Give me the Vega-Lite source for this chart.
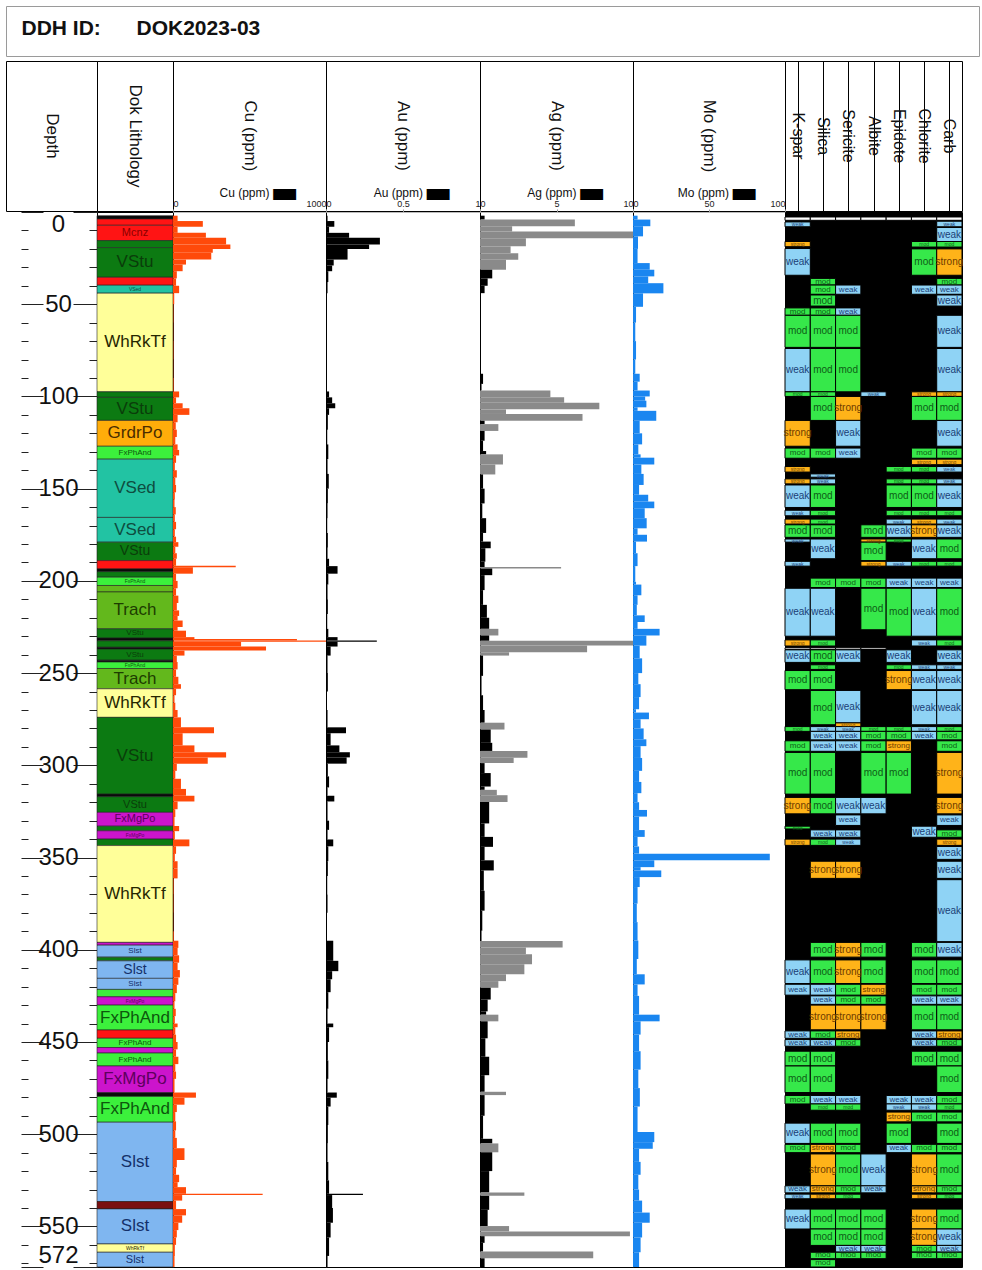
{
"$schema": "https://vega.github.io/schema/vega-lite/v6.json",
"padding": {"left": 5, "top": 5, "right": 4, "bottom": 0},
"background": "white",
"spacing": 3,
"resolve": {"scale": {"fill": "independent", "color": "independent"}},
"config": {"font": "Liberation Sans", "view": {"stroke": "#000", "strokeWidth": 1}, "axis": {"labelFont": "Liberation Sans"}, "text": {"font": "Liberation Sans"}},
"datasets": {
"lith": [
{"from":2,"to":3.8,"lith":"Flt","label":""},
{"from":3.8,"to":7.2,"lith":"Mcnz","label":""},
{"from":7.2,"to":15.5,"lith":"Mcnz","label":"Mcnz"},
{"from":15.5,"to":19.3,"lith":"VStu","label":""},
{"from":19.3,"to":35.4,"lith":"VStu","label":"VStu"},
{"from":35.4,"to":39.7,"lith":"Mcnz","label":""},
{"from":39.7,"to":44,"lith":"VSed","label":"VSed"},
{"from":44,"to":97.5,"lith":"WhRkTf","label":"WhRkTf"},
{"from":97.5,"to":100.5,"lith":"VStu","label":""},
{"from":100.5,"to":113,"lith":"VStu","label":"VStu"},
{"from":113,"to":127,"lith":"GrdrPo","label":"GrdrPo"},
{"from":127,"to":134,"lith":"FxPhAnd","label":"FxPhAnd"},
{"from":134,"to":165.6,"lith":"VSed","label":"VSed"},
{"from":165.6,"to":179,"lith":"VSed","label":"VSed"},
{"from":179,"to":189,"lith":"VStu","label":"VStu"},
{"from":189,"to":193.5,"lith":"Mcnz","label":""},
{"from":193.5,"to":195,"lith":"Flt","label":""},
{"from":195,"to":198,"lith":"VStu","label":""},
{"from":198,"to":202.5,"lith":"FxPhAnd","label":"FxPhAnd"},
{"from":202.5,"to":206,"lith":"Trach","label":""},
{"from":206,"to":226,"lith":"Trach","label":"Trach"},
{"from":226,"to":231,"lith":"VStu","label":"VStu"},
{"from":231,"to":232.5,"lith":"Flt","label":""},
{"from":232.5,"to":236,"lith":"VStu","label":""},
{"from":236,"to":237,"lith":"Flt","label":""},
{"from":237,"to":243,"lith":"VStu","label":"VStu"},
{"from":243,"to":244,"lith":"Flt","label":""},
{"from":244,"to":247.5,"lith":"FxPhAnd","label":"FxPhAnd"},
{"from":247.5,"to":258.5,"lith":"Trach","label":"Trach"},
{"from":258.5,"to":274,"lith":"WhRkTf","label":"WhRkTf"},
{"from":274,"to":315.6,"lith":"VStu","label":"VStu"},
{"from":315.6,"to":317,"lith":"Flt","label":""},
{"from":317,"to":325.5,"lith":"VStu","label":"VStu"},
{"from":325.5,"to":333,"lith":"FxMgPo","label":"FxMgPo"},
{"from":333,"to":335.5,"lith":"VStu","label":""},
{"from":335.5,"to":340,"lith":"FxMgPo","label":"FxMgPo"},
{"from":340,"to":343.5,"lith":"VStu","label":""},
{"from":343.5,"to":396,"lith":"WhRkTf","label":"WhRkTf"},
{"from":396,"to":397.5,"lith":"FxMgPo","label":""},
{"from":397.5,"to":404,"lith":"Slst","label":"Slst"},
{"from":404,"to":406,"lith":"VStu","label":""},
{"from":406,"to":415.5,"lith":"Slst","label":"Slst"},
{"from":415.5,"to":421.5,"lith":"Slst","label":"Slst"},
{"from":421.5,"to":425.5,"lith":"FxPhAnd","label":""},
{"from":425.5,"to":430,"lith":"FxMgPo","label":"FxMgPo"},
{"from":430,"to":443.5,"lith":"FxPhAnd","label":"FxPhAnd"},
{"from":443.5,"to":448,"lith":"Mcnz","label":""},
{"from":448,"to":453,"lith":"FxPhAnd","label":"FxPhAnd"},
{"from":453,"to":456,"lith":"FxMgPo","label":""},
{"from":456,"to":463,"lith":"FxPhAnd","label":"FxPhAnd"},
{"from":463,"to":477.5,"lith":"FxMgPo","label":"FxMgPo"},
{"from":477.5,"to":479.5,"lith":"Flt","label":""},
{"from":479.5,"to":493.5,"lith":"FxPhAnd","label":"FxPhAnd"},
{"from":493.5,"to":536.5,"lith":"Slst","label":"Slst"},
{"from":536.5,"to":540.5,"lith":"Dyk","label":""},
{"from":540.5,"to":559.5,"lith":"Slst","label":"Slst"},
{"from":559.5,"to":564,"lith":"WhRkTf","label":"WhRkTf"},
{"from":564,"to":572,"lith":"Slst","label":"Slst"}
],
"cu": [
{"from":2,"to":4.9,"Cu":30},{"from":4.9,"to":8,"Cu":195},{"from":8,"to":11.3,"Cu":30},{"from":11.3,"to":14,"Cu":215},{"from":14,"to":17.6,"Cu":347},{"from":17.6,"to":20,"Cu":375},{"from":20,"to":22.1,"Cu":260},{"from":22.1,"to":25.8,"Cu":250},{"from":25.8,"to":28.5,"Cu":85},{"from":28.5,"to":32.1,"Cu":63},{"from":32.1,"to":36,"Cu":25},{"from":36,"to":40,"Cu":20},{"from":40,"to":44,"Cu":40},{"from":44,"to":50,"Cu":8},{"from":50,"to":60,"Cu":3},{"from":60,"to":70,"Cu":2},{"from":70,"to":80,"Cu":3},{"from":80,"to":90,"Cu":2},{"from":90,"to":97.3,"Cu":4},{"from":97.3,"to":100.5,"Cu":40},{"from":100.5,"to":103.7,"Cu":20},{"from":103.7,"to":106.4,"Cu":63},{"from":106.4,"to":110,"Cu":107},{"from":110,"to":114,"Cu":30},{"from":114,"to":118,"Cu":18},{"from":118,"to":122,"Cu":25},{"from":122,"to":126,"Cu":15},{"from":126,"to":129,"Cu":30},{"from":129,"to":132,"Cu":40},{"from":132,"to":136,"Cu":20},{"from":136,"to":140,"Cu":12},{"from":140,"to":144,"Cu":25},{"from":144,"to":148,"Cu":15},{"from":148,"to":152,"Cu":20},{"from":152,"to":156,"Cu":12},{"from":156,"to":160,"Cu":10},{"from":160,"to":164,"Cu":18},{"from":164,"to":168,"Cu":12},{"from":168,"to":172,"Cu":20},{"from":172,"to":176,"Cu":12},{"from":176,"to":179,"Cu":20},{"from":179,"to":181.5,"Cu":35},{"from":181.5,"to":185,"Cu":15},{"from":185,"to":188,"Cu":25},{"from":188,"to":191.8,"Cu":20},{"from":191.8,"to":192.6,"Cu":410},{"from":192.6,"to":196.1,"Cu":130},{"from":196.1,"to":200,"Cu":20},{"from":200,"to":204,"Cu":30},{"from":204,"to":208,"Cu":20},{"from":208,"to":212,"Cu":35},{"from":212,"to":216,"Cu":25},{"from":216,"to":219,"Cu":40},{"from":219,"to":221.5,"Cu":30},{"from":221.5,"to":225,"Cu":63},{"from":225,"to":227,"Cu":30},{"from":227,"to":230.5,"Cu":85},{"from":230.5,"to":231.5,"Cu":140},{"from":231.5,"to":232.3,"Cu":810},{"from":232.3,"to":233,"Cu":1200},{"from":233,"to":235.6,"Cu":445},{"from":235.6,"to":237.8,"Cu":608},{"from":237.8,"to":240.5,"Cu":75},{"from":240.5,"to":244,"Cu":25},{"from":244,"to":248,"Cu":30},{"from":248,"to":252,"Cu":20},{"from":252,"to":256,"Cu":35},{"from":256,"to":258.5,"Cu":52},{"from":258.5,"to":262,"Cu":20},{"from":262,"to":266,"Cu":10},{"from":266,"to":270,"Cu":15},{"from":270,"to":274,"Cu":30},{"from":274,"to":279.4,"Cu":52},{"from":279.4,"to":282.6,"Cu":268},{"from":282.6,"to":289.2,"Cu":63},{"from":289.2,"to":292.9,"Cu":140},{"from":292.9,"to":295.7,"Cu":347},{"from":295.7,"to":299.1,"Cu":227},{"from":299.1,"to":303,"Cu":25},{"from":303,"to":307.3,"Cu":15},{"from":307.3,"to":312.8,"Cu":52},{"from":312.8,"to":316.5,"Cu":85},{"from":316.5,"to":319.6,"Cu":140},{"from":319.6,"to":323.8,"Cu":30},{"from":323.8,"to":328,"Cu":15},{"from":328,"to":332.9,"Cu":10},{"from":332.9,"to":335.7,"Cu":40},{"from":335.7,"to":340.2,"Cu":12},{"from":340.2,"to":343.9,"Cu":107},{"from":343.9,"to":348,"Cu":20},{"from":348,"to":352,"Cu":12},{"from":352,"to":356,"Cu":30},{"from":356,"to":361.3,"Cu":30},{"from":361.3,"to":370,"Cu":4},{"from":370,"to":380,"Cu":3},{"from":380,"to":390,"Cu":2},{"from":390,"to":395.1,"Cu":5},{"from":395.1,"to":399,"Cu":35},{"from":399,"to":403,"Cu":30},{"from":403,"to":407,"Cu":40},{"from":407,"to":411,"Cu":30},{"from":411,"to":415,"Cu":45},{"from":415,"to":419,"Cu":35},{"from":419,"to":423.5,"Cu":25},{"from":423.5,"to":428,"Cu":15},{"from":428,"to":432,"Cu":10},{"from":432,"to":436,"Cu":18},{"from":436,"to":440,"Cu":12},{"from":440,"to":442,"Cu":30},{"from":442,"to":446,"Cu":15},{"from":446,"to":450,"Cu":20},{"from":450,"to":454,"Cu":30},{"from":454,"to":458,"Cu":20},{"from":458,"to":462,"Cu":35},{"from":462,"to":466,"Cu":15},{"from":466,"to":470,"Cu":20},{"from":470,"to":477.4,"Cu":10},{"from":477.4,"to":480.2,"Cu":150},{"from":480.2,"to":484,"Cu":75},{"from":484,"to":488,"Cu":25},{"from":488,"to":493,"Cu":15},{"from":493,"to":498,"Cu":20},{"from":498,"to":502,"Cu":15},{"from":502,"to":507.6,"Cu":25},{"from":507.6,"to":514,"Cu":75},{"from":514,"to":518,"Cu":25},{"from":518,"to":522,"Cu":20},{"from":522,"to":526,"Cu":40},{"from":526,"to":528.7,"Cu":30},{"from":528.7,"to":532.3,"Cu":85},{"from":532.3,"to":533,"Cu":586},{"from":533,"to":536,"Cu":60},{"from":536,"to":540.6,"Cu":20},{"from":540.6,"to":544,"Cu":85},{"from":544,"to":548,"Cu":60},{"from":548,"to":552,"Cu":35},{"from":552,"to":556,"Cu":25},{"from":556,"to":560,"Cu":20},{"from":560,"to":566,"Cu":12},{"from":566,"to":572,"Cu":10}
],
"au": [
{"from":2,"to":4.9,"Au":0.01},{"from":4.9,"to":8,"Au":0.054},{"from":8,"to":11.3,"Au":0.02},{"from":11.3,"to":14,"Au":0.15},{"from":14,"to":17.6,"Au":0.35},{"from":17.6,"to":20,"Au":0.28},{"from":20,"to":25.8,"Au":0.14},{"from":25.8,"to":29,"Au":0.05},{"from":29,"to":32.1,"Au":0.04},{"from":32.1,"to":38,"Au":0.015},{"from":38,"to":44,"Au":0.01},{"from":44,"to":70,"Au":0.003},{"from":70,"to":97.3,"Au":0.002},{"from":97.3,"to":100.5,"Au":0.02},{"from":100.5,"to":103.7,"Au":0.04},{"from":103.7,"to":106.4,"Au":0.06},{"from":106.4,"to":110,"Au":0.02},{"from":110,"to":118,"Au":0.012},{"from":118,"to":126,"Au":0.008},{"from":126,"to":134,"Au":0.015},{"from":134,"to":142,"Au":0.01},{"from":142,"to":150,"Au":0.018},{"from":150,"to":158,"Au":0.012},{"from":158,"to":166,"Au":0.01},{"from":166,"to":174,"Au":0.008},{"from":174,"to":182,"Au":0.012},{"from":182,"to":188,"Au":0.01},{"from":188,"to":192,"Au":0.02},{"from":192,"to":196.1,"Au":0.075},{"from":196.1,"to":202,"Au":0.015},{"from":202,"to":210,"Au":0.01},{"from":210,"to":218,"Au":0.012},{"from":218,"to":226,"Au":0.008},{"from":226,"to":230.5,"Au":0.015},{"from":230.5,"to":232.3,"Au":0.075},{"from":232.3,"to":233,"Au":0.33},{"from":233,"to":235.6,"Au":0.075},{"from":235.6,"to":240.5,"Au":0.03},{"from":240.5,"to":250,"Au":0.01},{"from":250,"to":260,"Au":0.012},{"from":260,"to":270,"Au":0.006},{"from":270,"to":279.4,"Au":0.01},{"from":279.4,"to":282.6,"Au":0.13},{"from":282.6,"to":289.2,"Au":0.03},{"from":289.2,"to":292.9,"Au":0.087},{"from":292.9,"to":295.7,"Au":0.155},{"from":295.7,"to":299.1,"Au":0.134},{"from":299.1,"to":306,"Au":0.012},{"from":306,"to":312,"Au":0.02},{"from":312,"to":316.5,"Au":0.01},{"from":316.5,"to":319.6,"Au":0.054},{"from":319.6,"to":330,"Au":0.01},{"from":330,"to":335,"Au":0.02},{"from":335,"to":340.2,"Au":0.01},{"from":340.2,"to":343.9,"Au":0.047},{"from":343.9,"to":352,"Au":0.015},{"from":352,"to":360,"Au":0.012},{"from":360,"to":370,"Au":0.008},{"from":370,"to":380,"Au":0.01},{"from":380,"to":395.1,"Au":0.006},{"from":395.1,"to":406,"Au":0.047},{"from":406,"to":411.6,"Au":0.08},{"from":411.6,"to":416,"Au":0.04},{"from":416,"to":423,"Au":0.03},{"from":423,"to":432,"Au":0.015},{"from":432,"to":440,"Au":0.01},{"from":440,"to":442,"Au":0.047},{"from":442,"to":450,"Au":0.02},{"from":450,"to":460,"Au":0.012},{"from":460,"to":470,"Au":0.015},{"from":470,"to":477.4,"Au":0.01},{"from":477.4,"to":480.2,"Au":0.07},{"from":480.2,"to":485,"Au":0.03},{"from":485,"to":495,"Au":0.015},{"from":495,"to":505,"Au":0.012},{"from":505,"to":515,"Au":0.01},{"from":515,"to":525,"Au":0.015},{"from":525,"to":532.3,"Au":0.02},{"from":532.3,"to":533,"Au":0.24},{"from":533,"to":540,"Au":0.04},{"from":540,"to":548,"Au":0.045},{"from":548,"to":556,"Au":0.03},{"from":556,"to":566,"Au":0.02},{"from":566,"to":572,"Au":0.01}
],
"ag": [
{"from":2,"to":4.1,"Ag":0.3},{"from":4.1,"to":7.7,"Ag":6.2},{"from":7.7,"to":10.6,"Ag":2.1},{"from":10.6,"to":14.2,"Ag":12},{"from":14.2,"to":18.6,"Ag":3.0},{"from":18.6,"to":22.3,"Ag":2.0},{"from":22.3,"to":25.9,"Ag":2.5},{"from":25.9,"to":31.3,"Ag":1.7},{"from":31.3,"to":36,"Ag":0.8},{"from":36,"to":40,"Ag":0.5},{"from":40,"to":44,"Ag":0.3},{"from":44,"to":66,"Ag":0.06},{"from":66,"to":87.7,"Ag":0.05},{"from":87.7,"to":93.2,"Ag":0.2},{"from":93.2,"to":96.8,"Ag":0.1},{"from":96.8,"to":100.5,"Ag":4.6},{"from":100.5,"to":103.4,"Ag":5.5},{"from":103.4,"to":107,"Ag":7.8},{"from":107,"to":109.5,"Ag":1.7},{"from":109.5,"to":113.2,"Ag":6.7},{"from":113.2,"to":115,"Ag":0.3},{"from":115,"to":118.7,"Ag":1.2},{"from":118.7,"to":124,"Ag":0.3},{"from":124,"to":129.6,"Ag":0.2},{"from":129.6,"to":131.4,"Ag":0.4},{"from":131.4,"to":136.9,"Ag":1.5},{"from":136.9,"to":142.3,"Ag":1.0},{"from":142.3,"to":150,"Ag":0.2},{"from":150,"to":158,"Ag":0.3},{"from":158,"to":166,"Ag":0.15},{"from":166,"to":174,"Ag":0.4},{"from":174,"to":178.7,"Ag":0.2},{"from":178.7,"to":182.3,"Ag":0.7},{"from":182.3,"to":189.6,"Ag":0.35},{"from":189.6,"to":192.5,"Ag":0.3},{"from":192.5,"to":193.3,"Ag":5.3},{"from":193.3,"to":196.9,"Ag":0.8},{"from":196.9,"to":205,"Ag":0.3},{"from":205,"to":213,"Ag":0.2},{"from":213,"to":220,"Ag":0.45},{"from":220,"to":226,"Ag":0.6},{"from":226,"to":229.6,"Ag":1.2},{"from":229.6,"to":232.5,"Ag":0.6},{"from":232.5,"to":235.1,"Ag":11},{"from":235.1,"to":238.7,"Ag":7.0},{"from":238.7,"to":240.5,"Ag":1.9},{"from":240.5,"to":251.5,"Ag":0.2},{"from":251.5,"to":262,"Ag":0.1},{"from":262,"to":270,"Ag":0.2},{"from":270,"to":276.9,"Ag":0.3},{"from":276.9,"to":280.6,"Ag":1.6},{"from":280.6,"to":287.8,"Ag":0.7},{"from":287.8,"to":292.2,"Ag":0.8},{"from":292.2,"to":295.9,"Ag":3.1},{"from":295.9,"to":298.8,"Ag":2.2},{"from":298.8,"to":304.2,"Ag":0.3},{"from":304.2,"to":311.5,"Ag":0.7},{"from":311.5,"to":313.3,"Ag":0.3},{"from":313.3,"to":316.2,"Ag":1.1},{"from":316.2,"to":319.9,"Ag":1.8},{"from":319.9,"to":331.5,"Ag":0.6},{"from":331.5,"to":338.8,"Ag":0.3},{"from":338.8,"to":344.2,"Ag":0.85},{"from":344.2,"to":351.5,"Ag":0.3},{"from":351.5,"to":357,"Ag":0.9},{"from":357,"to":368,"Ag":0.25},{"from":368,"to":378.8,"Ag":0.3},{"from":378.8,"to":389.7,"Ag":0.15},{"from":389.7,"to":395.2,"Ag":0.1},{"from":395.2,"to":398.8,"Ag":5.4},{"from":398.8,"to":402.4,"Ag":3.0},{"from":402.4,"to":407.9,"Ag":3.4},{"from":407.9,"to":413.3,"Ag":2.9},{"from":413.3,"to":417,"Ag":1.7},{"from":417,"to":420.6,"Ag":1.2},{"from":420.6,"to":427,"Ag":0.7},{"from":427,"to":433.4,"Ag":0.5},{"from":433.4,"to":435.2,"Ag":0.4},{"from":435.2,"to":438.8,"Ag":1.2},{"from":438.8,"to":448,"Ag":0.5},{"from":448,"to":458,"Ag":0.35},{"from":458,"to":468,"Ag":0.6},{"from":468,"to":477,"Ag":0.3},{"from":477,"to":478.8,"Ag":1.7},{"from":478.8,"to":490,"Ag":0.3},{"from":490,"to":502.5,"Ag":0.2},{"from":502.5,"to":505,"Ag":0.8},{"from":505,"to":509.8,"Ag":1.2},{"from":509.8,"to":520,"Ag":0.8},{"from":520,"to":531.6,"Ag":0.6},{"from":531.6,"to":533.4,"Ag":2.9},{"from":533.4,"to":541,"Ag":0.6},{"from":541,"to":549.8,"Ag":0.5},{"from":549.8,"to":552.7,"Ag":1.9},{"from":552.7,"to":555.3,"Ag":9.8},{"from":555.3,"to":558.9,"Ag":0.3},{"from":558.9,"to":563.6,"Ag":0.2},{"from":563.6,"to":567.3,"Ag":7.4},{"from":567.3,"to":572,"Ag":0.3}
],
"mo": [
{"from":2,"to":4.1,"Mo":3},{"from":4.1,"to":7.7,"Mo":11.4},{"from":7.7,"to":13.2,"Mo":6.6},{"from":13.2,"to":20,"Mo":3.3},{"from":20,"to":27.7,"Mo":3.0},{"from":27.7,"to":31.3,"Mo":11},{"from":31.3,"to":34.9,"Mo":14},{"from":34.9,"to":38.6,"Mo":10},{"from":38.6,"to":44.1,"Mo":20},{"from":44.1,"to":51.4,"Mo":6.6},{"from":51.4,"to":60,"Mo":2},{"from":60,"to":70,"Mo":1.5},{"from":70,"to":80,"Mo":2},{"from":80,"to":87.7,"Mo":1.5},{"from":87.7,"to":92,"Mo":4.4},{"from":92,"to":96.8,"Mo":3},{"from":96.8,"to":100,"Mo":11},{"from":100,"to":102.3,"Mo":8},{"from":102.3,"to":105.9,"Mo":8.8},{"from":105.9,"to":107.8,"Mo":3},{"from":107.8,"to":113.2,"Mo":15.3},{"from":113.2,"to":120,"Mo":4.4},{"from":120,"to":126,"Mo":6},{"from":126,"to":131.4,"Mo":3.5},{"from":131.4,"to":133.2,"Mo":5},{"from":133.2,"to":136.9,"Mo":14},{"from":136.9,"to":142,"Mo":5.5},{"from":142,"to":148,"Mo":7},{"from":148,"to":153.3,"Mo":4},{"from":153.3,"to":157,"Mo":10},{"from":157,"to":160.6,"Mo":14},{"from":160.6,"to":166,"Mo":7.7},{"from":166,"to":171.5,"Mo":9},{"from":171.5,"to":175,"Mo":3},{"from":175,"to":178.7,"Mo":9.2},{"from":178.7,"to":185,"Mo":2},{"from":185,"to":192,"Mo":3},{"from":192,"to":200.5,"Mo":1.5},{"from":200.5,"to":202,"Mo":2},{"from":202,"to":207.8,"Mo":5.5},{"from":207.8,"to":213,"Mo":3},{"from":213,"to":218.7,"Mo":2.5},{"from":218.7,"to":222.3,"Mo":7.7},{"from":222.3,"to":226,"Mo":3},{"from":226,"to":229.6,"Mo":17.5},{"from":229.6,"to":235.1,"Mo":8.8},{"from":235.1,"to":242,"Mo":4.4},{"from":242,"to":250,"Mo":6},{"from":250,"to":256,"Mo":3.5},{"from":256,"to":263,"Mo":5},{"from":263,"to":269.6,"Mo":4},{"from":269.6,"to":271.4,"Mo":2},{"from":271.4,"to":275,"Mo":10.5},{"from":275,"to":280,"Mo":5},{"from":280,"to":285.9,"Mo":7},{"from":285.9,"to":289.6,"Mo":8.8},{"from":289.6,"to":296,"Mo":5},{"from":296,"to":303,"Mo":6},{"from":303,"to":309,"Mo":4},{"from":309,"to":315.1,"Mo":5.5},{"from":315.1,"to":320,"Mo":3},{"from":320,"to":324.2,"Mo":4},{"from":324.2,"to":327.8,"Mo":9.2},{"from":327.8,"to":335.1,"Mo":4},{"from":335.1,"to":338.8,"Mo":7.7},{"from":338.8,"to":344,"Mo":3},{"from":344,"to":347.9,"Mo":4},{"from":347.9,"to":351.5,"Mo":90},{"from":351.5,"to":355.2,"Mo":14},{"from":355.2,"to":357,"Mo":5},{"from":357,"to":360.6,"Mo":18.6},{"from":360.6,"to":366,"Mo":4.4},{"from":366,"to":375,"Mo":3},{"from":375,"to":385,"Mo":2.5},{"from":385,"to":395,"Mo":3},{"from":395,"to":405,"Mo":3.5},{"from":405,"to":413.3,"Mo":2.5},{"from":413.3,"to":418.8,"Mo":7.7},{"from":418.8,"to":425,"Mo":3},{"from":425,"to":435.2,"Mo":4},{"from":435.2,"to":438.8,"Mo":17.5},{"from":438.8,"to":446,"Mo":5},{"from":446,"to":455,"Mo":4},{"from":455,"to":465,"Mo":5},{"from":465,"to":475,"Mo":3.5},{"from":475,"to":485,"Mo":4.5},{"from":485,"to":498.8,"Mo":3},{"from":498.8,"to":504.3,"Mo":14},{"from":504.3,"to":507.9,"Mo":13},{"from":507.9,"to":515,"Mo":4},{"from":515,"to":522,"Mo":5},{"from":522,"to":530,"Mo":3.5},{"from":530,"to":536,"Mo":4},{"from":536,"to":542.5,"Mo":6},{"from":542.5,"to":548,"Mo":11},{"from":548,"to":556,"Mo":6},{"from":556,"to":564,"Mo":5},{"from":564,"to":572,"Mo":4}
],
"alt": [
{"from":2.7,"to":4.5,"mineral":"K-spar","intensity":"nil"},{"from":2.7,"to":4.5,"mineral":"Silica","intensity":"nil"},{"from":2.7,"to":4.5,"mineral":"Sericite","intensity":"nil"},{"from":2.7,"to":4.5,"mineral":"Albite","intensity":"nil"},{"from":2.7,"to":4.5,"mineral":"Epidote","intensity":"nil"},{"from":2.7,"to":4.5,"mineral":"Chlorite","intensity":"nil"},{"from":2.7,"to":4.5,"mineral":"Carb","intensity":"nil"},
{"from":236.3,"to":237.2,"mineral":"K-spar","intensity":"nil"},{"from":236.3,"to":237.2,"mineral":"Silica","intensity":"nil"},{"from":236.3,"to":237.2,"mineral":"Sericite","intensity":"nil"},{"from":236.3,"to":237.2,"mineral":"Albite","intensity":"nil"},
{"from":5.4,"to":8,"mineral":"K-spar","intensity":"weak"},{"from":16,"to":18.8,"mineral":"K-spar","intensity":"strong"},{"from":19.8,"to":34.3,"mineral":"K-spar","intensity":"weak"},{"from":52,"to":56,"mineral":"K-spar","intensity":"mod"},{"from":56,"to":73.4,"mineral":"K-spar","intensity":"mod"},{"from":74,"to":97.5,"mineral":"K-spar","intensity":"weak"},{"from":97.5,"to":100,"mineral":"K-spar","intensity":"mod"},{"from":113,"to":127,"mineral":"K-spar","intensity":"strong"},{"from":128,"to":133.5,"mineral":"K-spar","intensity":"mod"},{"from":138,"to":141,"mineral":"K-spar","intensity":"strong"},{"from":144.7,"to":147.4,"mineral":"K-spar","intensity":"strong"},{"from":148,"to":160.2,"mineral":"K-spar","intensity":"weak"},{"from":161.7,"to":164.7,"mineral":"K-spar","intensity":"weak"},{"from":166.5,"to":169.2,"mineral":"K-spar","intensity":"strong"},{"from":169.6,"to":176.4,"mineral":"K-spar","intensity":"mod"},{"from":177.3,"to":179,"mineral":"K-spar","intensity":"weak"},{"from":189.4,"to":192,"mineral":"K-spar","intensity":"weak"},{"from":204,"to":230,"mineral":"K-spar","intensity":"weak"},{"from":232,"to":235.3,"mineral":"K-spar","intensity":"strong"},{"from":237.4,"to":244.2,"mineral":"K-spar","intensity":"weak"},{"from":248.6,"to":259,"mineral":"K-spar","intensity":"mod"},{"from":279,"to":281.6,"mineral":"K-spar","intensity":"mod"},{"from":286.7,"to":292.4,"mineral":"K-spar","intensity":"mod"},{"from":293,"to":315.6,"mineral":"K-spar","intensity":"mod"},{"from":317.4,"to":326.3,"mineral":"K-spar","intensity":"strong"},{"from":333,"to":334.5,"mineral":"K-spar","intensity":"mod"},{"from":340,"to":343.4,"mineral":"K-spar","intensity":"strong"},{"from":405.5,"to":418.3,"mineral":"K-spar","intensity":"weak"},{"from":418.7,"to":424.6,"mineral":"K-spar","intensity":"weak"},{"from":444,"to":448,"mineral":"K-spar","intensity":"weak"},{"from":448.7,"to":452.3,"mineral":"K-spar","intensity":"weak"},{"from":455,"to":463,"mineral":"K-spar","intensity":"mod"},{"from":463,"to":477.4,"mineral":"K-spar","intensity":"mod"},{"from":479,"to":483.6,"mineral":"K-spar","intensity":"mod"},{"from":494,"to":505,"mineral":"K-spar","intensity":"weak"},{"from":505.5,"to":510,"mineral":"K-spar","intensity":"mod"},{"from":528,"to":531.8,"mineral":"K-spar","intensity":"weak"},{"from":532.5,"to":535,"mineral":"K-spar","intensity":"weak"},{"from":540.6,"to":551.4,"mineral":"K-spar","intensity":"weak"},
{"from":36,"to":39.6,"mineral":"Silica","intensity":"mod"},{"from":39.6,"to":44.6,"mineral":"Silica","intensity":"mod"},{"from":45,"to":51,"mineral":"Silica","intensity":"mod"},{"from":52,"to":56,"mineral":"Silica","intensity":"mod"},{"from":56,"to":73.4,"mineral":"Silica","intensity":"mod"},{"from":74,"to":97.5,"mineral":"Silica","intensity":"mod"},{"from":97.5,"to":100,"mineral":"Silica","intensity":"mod"},{"from":100,"to":113,"mineral":"Silica","intensity":"mod"},{"from":128,"to":133.5,"mineral":"Silica","intensity":"mod"},{"from":142,"to":143.8,"mineral":"Silica","intensity":"weak"},{"from":144.7,"to":147.4,"mineral":"Silica","intensity":"weak"},{"from":148,"to":160.2,"mineral":"Silica","intensity":"mod"},{"from":161.7,"to":164.7,"mineral":"Silica","intensity":"mod"},{"from":166.5,"to":169.2,"mineral":"Silica","intensity":"mod"},{"from":169.6,"to":176.4,"mineral":"Silica","intensity":"mod"},{"from":177.3,"to":188,"mineral":"Silica","intensity":"weak"},{"from":198.5,"to":203.6,"mineral":"Silica","intensity":"mod"},{"from":204,"to":230,"mineral":"Silica","intensity":"weak"},{"from":232,"to":235.3,"mineral":"Silica","intensity":"mod"},{"from":237.4,"to":244.2,"mineral":"Silica","intensity":"mod"},{"from":245.5,"to":248,"mineral":"Silica","intensity":"mod"},{"from":248.6,"to":259,"mineral":"Silica","intensity":"mod"},{"from":259.4,"to":278,"mineral":"Silica","intensity":"mod"},{"from":279,"to":281.6,"mineral":"Silica","intensity":"weak"},{"from":281.6,"to":286.2,"mineral":"Silica","intensity":"weak"},{"from":286.7,"to":292.4,"mineral":"Silica","intensity":"weak"},{"from":293,"to":315.6,"mineral":"Silica","intensity":"mod"},{"from":317.4,"to":326.3,"mineral":"Silica","intensity":"mod"},{"from":335,"to":339,"mineral":"Silica","intensity":"weak"},{"from":340,"to":343.4,"mineral":"Silica","intensity":"mod"},{"from":352,"to":361.3,"mineral":"Silica","intensity":"strong"},{"from":396,"to":404,"mineral":"Silica","intensity":"mod"},{"from":405.5,"to":418.3,"mineral":"Silica","intensity":"mod"},{"from":418.7,"to":424.6,"mineral":"Silica","intensity":"weak"},{"from":425,"to":429.6,"mineral":"Silica","intensity":"weak"},{"from":430,"to":443.4,"mineral":"Silica","intensity":"strong"},{"from":444,"to":448,"mineral":"Silica","intensity":"mod"},{"from":448.7,"to":452.3,"mineral":"Silica","intensity":"weak"},{"from":455,"to":463,"mineral":"Silica","intensity":"mod"},{"from":463,"to":477.4,"mineral":"Silica","intensity":"mod"},{"from":479,"to":483.6,"mineral":"Silica","intensity":"weak"},{"from":483.6,"to":487,"mineral":"Silica","intensity":"mod"},{"from":494,"to":505,"mineral":"Silica","intensity":"mod"},{"from":505.5,"to":510,"mineral":"Silica","intensity":"strong"},{"from":510.7,"to":528,"mineral":"Silica","intensity":"strong"},{"from":528,"to":531.8,"mineral":"Silica","intensity":"strong"},{"from":532.5,"to":535,"mineral":"Silica","intensity":"strong"},{"from":540.6,"to":551.4,"mineral":"Silica","intensity":"mod"},{"from":551.4,"to":560.3,"mineral":"Silica","intensity":"mod"},{"from":564,"to":567.5,"mineral":"Silica","intensity":"mod"},{"from":568,"to":572,"mineral":"Silica","intensity":"mod"},
{"from":39.6,"to":44.6,"mineral":"Sericite","intensity":"weak"},{"from":52,"to":56,"mineral":"Sericite","intensity":"weak"},{"from":56,"to":73.4,"mineral":"Sericite","intensity":"mod"},{"from":74,"to":97.5,"mineral":"Sericite","intensity":"mod"},{"from":100,"to":113,"mineral":"Sericite","intensity":"strong"},{"from":113,"to":127,"mineral":"Sericite","intensity":"weak"},{"from":128,"to":133.5,"mineral":"Sericite","intensity":"weak"},{"from":198.5,"to":203.6,"mineral":"Sericite","intensity":"mod"},{"from":237.4,"to":244.2,"mineral":"Sericite","intensity":"weak"},{"from":259.4,"to":277,"mineral":"Sericite","intensity":"weak"},{"from":277,"to":279,"mineral":"Sericite","intensity":"strong"},{"from":279,"to":281.6,"mineral":"Sericite","intensity":"weak"},{"from":281.6,"to":286.2,"mineral":"Sericite","intensity":"weak"},{"from":286.7,"to":292.4,"mineral":"Sericite","intensity":"weak"},{"from":317.4,"to":326.3,"mineral":"Sericite","intensity":"weak"},{"from":326.9,"to":332.6,"mineral":"Sericite","intensity":"weak"},{"from":335,"to":339,"mineral":"Sericite","intensity":"weak"},{"from":340,"to":343.4,"mineral":"Sericite","intensity":"weak"},{"from":352,"to":361.3,"mineral":"Sericite","intensity":"strong"},{"from":396,"to":404,"mineral":"Sericite","intensity":"strong"},{"from":405.5,"to":418.3,"mineral":"Sericite","intensity":"strong"},{"from":418.7,"to":424.6,"mineral":"Sericite","intensity":"mod"},{"from":425,"to":429.6,"mineral":"Sericite","intensity":"mod"},{"from":430,"to":443.4,"mineral":"Sericite","intensity":"strong"},{"from":444,"to":448,"mineral":"Sericite","intensity":"strong"},{"from":448.7,"to":452.3,"mineral":"Sericite","intensity":"mod"},{"from":479,"to":483.6,"mineral":"Sericite","intensity":"weak"},{"from":483.6,"to":487,"mineral":"Sericite","intensity":"mod"},{"from":494,"to":505,"mineral":"Sericite","intensity":"mod"},{"from":505.5,"to":510,"mineral":"Sericite","intensity":"mod"},{"from":510.7,"to":528,"mineral":"Sericite","intensity":"mod"},{"from":528,"to":531.8,"mineral":"Sericite","intensity":"mod"},{"from":532.5,"to":535,"mineral":"Sericite","intensity":"mod"},{"from":540.6,"to":551.4,"mineral":"Sericite","intensity":"mod"},{"from":551.4,"to":560.3,"mineral":"Sericite","intensity":"mod"},{"from":560.3,"to":563.9,"mineral":"Sericite","intensity":"weak"},{"from":564,"to":567.5,"mineral":"Sericite","intensity":"mod"},
{"from":97.5,"to":100,"mineral":"Albite","intensity":"weak"},{"from":169.6,"to":176.4,"mineral":"Albite","intensity":"mod"},{"from":177.3,"to":179,"mineral":"Albite","intensity":"strong"},{"from":179,"to":189,"mineral":"Albite","intensity":"mod"},{"from":189.4,"to":192,"mineral":"Albite","intensity":"strong"},{"from":198.5,"to":203.6,"mineral":"Albite","intensity":"mod"},{"from":204,"to":226.5,"mineral":"Albite","intensity":"mod"},{"from":279,"to":281.6,"mineral":"Albite","intensity":"mod"},{"from":281.6,"to":286.2,"mineral":"Albite","intensity":"mod"},{"from":286.7,"to":292.4,"mineral":"Albite","intensity":"mod"},{"from":293,"to":315.6,"mineral":"Albite","intensity":"mod"},{"from":317.4,"to":326.3,"mineral":"Albite","intensity":"weak"},{"from":396,"to":404,"mineral":"Albite","intensity":"mod"},{"from":405.5,"to":418.3,"mineral":"Albite","intensity":"mod"},{"from":418.7,"to":424.6,"mineral":"Albite","intensity":"strong"},{"from":425,"to":429.6,"mineral":"Albite","intensity":"mod"},{"from":430,"to":443.4,"mineral":"Albite","intensity":"strong"},{"from":510.7,"to":528,"mineral":"Albite","intensity":"weak"},{"from":528,"to":531.8,"mineral":"Albite","intensity":"weak"},{"from":540.6,"to":551.4,"mineral":"Albite","intensity":"mod"},{"from":551.4,"to":560.3,"mineral":"Albite","intensity":"mod"},{"from":560.3,"to":563.9,"mineral":"Albite","intensity":"weak"},{"from":564,"to":567.5,"mineral":"Albite","intensity":"mod"},
{"from":138,"to":141,"mineral":"Epidote","intensity":"mod"},{"from":144.7,"to":147.4,"mineral":"Epidote","intensity":"mod"},{"from":148,"to":160.2,"mineral":"Epidote","intensity":"mod"},{"from":161.7,"to":164.7,"mineral":"Epidote","intensity":"mod"},{"from":166.5,"to":169.2,"mineral":"Epidote","intensity":"weak"},{"from":169.6,"to":176.4,"mineral":"Epidote","intensity":"weak"},{"from":177.3,"to":179,"mineral":"Epidote","intensity":"mod"},{"from":189.4,"to":192,"mineral":"Epidote","intensity":"weak"},{"from":198.5,"to":203.6,"mineral":"Epidote","intensity":"weak"},{"from":204,"to":230,"mineral":"Epidote","intensity":"mod"},{"from":237.4,"to":244.2,"mineral":"Epidote","intensity":"weak"},{"from":245.5,"to":248,"mineral":"Epidote","intensity":"mod"},{"from":248.6,"to":259,"mineral":"Epidote","intensity":"strong"},{"from":279,"to":281.6,"mineral":"Epidote","intensity":"mod"},{"from":281.6,"to":286.2,"mineral":"Epidote","intensity":"mod"},{"from":286.7,"to":292.4,"mineral":"Epidote","intensity":"strong"},{"from":293,"to":315.6,"mineral":"Epidote","intensity":"mod"},{"from":479,"to":483.6,"mineral":"Epidote","intensity":"weak"},{"from":483.6,"to":487,"mineral":"Epidote","intensity":"weak"},{"from":488,"to":493.3,"mineral":"Epidote","intensity":"strong"},{"from":494,"to":505,"mineral":"Epidote","intensity":"mod"},{"from":505.5,"to":510,"mineral":"Epidote","intensity":"weak"},
{"from":16,"to":19,"mineral":"Chlorite","intensity":"mod"},{"from":20,"to":34.3,"mineral":"Chlorite","intensity":"mod"},{"from":39.6,"to":44.6,"mineral":"Chlorite","intensity":"weak"},{"from":97.5,"to":100,"mineral":"Chlorite","intensity":"strong"},{"from":100,"to":113,"mineral":"Chlorite","intensity":"mod"},{"from":128,"to":133.5,"mineral":"Chlorite","intensity":"mod"},{"from":134,"to":137,"mineral":"Chlorite","intensity":"strong"},{"from":138,"to":141,"mineral":"Chlorite","intensity":"mod"},{"from":144.7,"to":147.4,"mineral":"Chlorite","intensity":"mod"},{"from":148,"to":160.2,"mineral":"Chlorite","intensity":"mod"},{"from":161.7,"to":164.7,"mineral":"Chlorite","intensity":"mod"},{"from":166.5,"to":169.2,"mineral":"Chlorite","intensity":"strong"},{"from":169.6,"to":176.4,"mineral":"Chlorite","intensity":"strong"},{"from":177.3,"to":188,"mineral":"Chlorite","intensity":"weak"},{"from":189.4,"to":192,"mineral":"Chlorite","intensity":"mod"},{"from":198.5,"to":203.6,"mineral":"Chlorite","intensity":"weak"},{"from":204,"to":230,"mineral":"Chlorite","intensity":"weak"},{"from":232,"to":235.3,"mineral":"Chlorite","intensity":"weak"},{"from":245.5,"to":248,"mineral":"Chlorite","intensity":"weak"},{"from":248.6,"to":259,"mineral":"Chlorite","intensity":"weak"},{"from":259.4,"to":278,"mineral":"Chlorite","intensity":"weak"},{"from":279,"to":281.6,"mineral":"Chlorite","intensity":"weak"},{"from":281.6,"to":286.2,"mineral":"Chlorite","intensity":"weak"},{"from":333,"to":339,"mineral":"Chlorite","intensity":"weak"},{"from":396,"to":404,"mineral":"Chlorite","intensity":"mod"},{"from":405.5,"to":418.3,"mineral":"Chlorite","intensity":"mod"},{"from":418.7,"to":424.6,"mineral":"Chlorite","intensity":"mod"},{"from":425,"to":429.6,"mineral":"Chlorite","intensity":"weak"},{"from":430,"to":443.4,"mineral":"Chlorite","intensity":"mod"},{"from":444,"to":448,"mineral":"Chlorite","intensity":"weak"},{"from":448.7,"to":452.3,"mineral":"Chlorite","intensity":"weak"},{"from":455,"to":463,"mineral":"Chlorite","intensity":"mod"},{"from":479,"to":483.6,"mineral":"Chlorite","intensity":"weak"},{"from":483.6,"to":487,"mineral":"Chlorite","intensity":"weak"},{"from":488,"to":493.3,"mineral":"Chlorite","intensity":"mod"},{"from":505.5,"to":510,"mineral":"Chlorite","intensity":"mod"},{"from":510.7,"to":528,"mineral":"Chlorite","intensity":"strong"},{"from":528,"to":531.8,"mineral":"Chlorite","intensity":"strong"},{"from":532.5,"to":535,"mineral":"Chlorite","intensity":"strong"},{"from":540.6,"to":551.4,"mineral":"Chlorite","intensity":"strong"},{"from":551.4,"to":560.3,"mineral":"Chlorite","intensity":"strong"},{"from":560.3,"to":563.9,"mineral":"Chlorite","intensity":"mod"},{"from":564,"to":567.5,"mineral":"Chlorite","intensity":"mod"},
{"from":5,"to":8,"mineral":"Carb","intensity":"weak"},{"from":8.4,"to":16,"mineral":"Carb","intensity":"weak"},{"from":16,"to":19,"mineral":"Carb","intensity":"mod"},{"from":20,"to":34.3,"mineral":"Carb","intensity":"strong"},{"from":36,"to":39.6,"mineral":"Carb","intensity":"mod"},{"from":39.6,"to":44.6,"mineral":"Carb","intensity":"weak"},{"from":45,"to":51,"mineral":"Carb","intensity":"weak"},{"from":56,"to":73.4,"mineral":"Carb","intensity":"weak"},{"from":74,"to":97.5,"mineral":"Carb","intensity":"weak"},{"from":97.5,"to":100,"mineral":"Carb","intensity":"strong"},{"from":100,"to":113,"mineral":"Carb","intensity":"mod"},{"from":113,"to":127,"mineral":"Carb","intensity":"weak"},{"from":128,"to":133.5,"mineral":"Carb","intensity":"mod"},{"from":134,"to":137,"mineral":"Carb","intensity":"strong"},{"from":138,"to":141,"mineral":"Carb","intensity":"weak"},{"from":144.7,"to":147.4,"mineral":"Carb","intensity":"weak"},{"from":148,"to":160.2,"mineral":"Carb","intensity":"weak"},{"from":161.7,"to":164.7,"mineral":"Carb","intensity":"mod"},{"from":166.5,"to":169.2,"mineral":"Carb","intensity":"weak"},{"from":169.6,"to":176.4,"mineral":"Carb","intensity":"weak"},{"from":177.3,"to":188,"mineral":"Carb","intensity":"mod"},{"from":189.4,"to":192,"mineral":"Carb","intensity":"mod"},{"from":198.5,"to":203.6,"mineral":"Carb","intensity":"weak"},{"from":204,"to":230,"mineral":"Carb","intensity":"mod"},{"from":232,"to":235.3,"mineral":"Carb","intensity":"mod"},{"from":237.4,"to":244.2,"mineral":"Carb","intensity":"weak"},{"from":245.5,"to":248,"mineral":"Carb","intensity":"weak"},{"from":248.6,"to":259,"mineral":"Carb","intensity":"weak"},{"from":259.4,"to":278,"mineral":"Carb","intensity":"weak"},{"from":279,"to":281.6,"mineral":"Carb","intensity":"mod"},{"from":281.6,"to":286.2,"mineral":"Carb","intensity":"mod"},{"from":286.7,"to":292.4,"mineral":"Carb","intensity":"mod"},{"from":293,"to":315.6,"mineral":"Carb","intensity":"strong"},{"from":317.4,"to":326.3,"mineral":"Carb","intensity":"strong"},{"from":326.9,"to":332.6,"mineral":"Carb","intensity":"weak"},{"from":335,"to":339,"mineral":"Carb","intensity":"mod"},{"from":340,"to":343.4,"mineral":"Carb","intensity":"strong"},{"from":344,"to":351,"mineral":"Carb","intensity":"weak"},{"from":352,"to":361.3,"mineral":"Carb","intensity":"weak"},{"from":362,"to":395.6,"mineral":"Carb","intensity":"weak"},{"from":396,"to":404,"mineral":"Carb","intensity":"weak"},{"from":405.5,"to":418.3,"mineral":"Carb","intensity":"mod"},{"from":418.7,"to":424.6,"mineral":"Carb","intensity":"mod"},{"from":425,"to":429.6,"mineral":"Carb","intensity":"weak"},{"from":430,"to":443.4,"mineral":"Carb","intensity":"mod"},{"from":444,"to":448,"mineral":"Carb","intensity":"strong"},{"from":448.7,"to":452.3,"mineral":"Carb","intensity":"mod"},{"from":455,"to":463,"mineral":"Carb","intensity":"mod"},{"from":463,"to":477.4,"mineral":"Carb","intensity":"mod"},{"from":479,"to":483.6,"mineral":"Carb","intensity":"mod"},{"from":483.6,"to":487,"mineral":"Carb","intensity":"mod"},{"from":488,"to":493.3,"mineral":"Carb","intensity":"mod"},{"from":494,"to":505,"mineral":"Carb","intensity":"mod"},{"from":505.5,"to":510,"mineral":"Carb","intensity":"mod"},{"from":510.7,"to":528,"mineral":"Carb","intensity":"mod"},{"from":528,"to":531.8,"mineral":"Carb","intensity":"mod"},{"from":532.5,"to":535,"mineral":"Carb","intensity":"mod"},{"from":540.6,"to":551.4,"mineral":"Carb","intensity":"mod"},{"from":551.4,"to":560.3,"mineral":"Carb","intensity":"weak"},{"from":560.3,"to":563.9,"mineral":"Carb","intensity":"weak"},{"from":564,"to":567.5,"mineral":"Carb","intensity":"mod"}
]
},
"vconcat": [
{
"width": 973, "height": 50,
"view": {"stroke": "#9a9a9a"},
"data": {"values": [{"a": "DDH ID:", "b": "DOK2023-03"}]},
"layer": [
{"mark": {"type": "text", "align": "left", "baseline": "middle", "dx": -471, "dy": -2, "fontSize": 21, "fontWeight": "bold", "color": "#111"}, "encoding": {"text": {"field": "a"}}},
{"mark": {"type": "text", "align": "left", "baseline": "middle", "dx": -356, "dy": -2, "fontSize": 21, "fontWeight": "bold", "color": "#111"}, "encoding": {"text": {"field": "b"}}}
]
},
{
"spacing": -15,
"resolve": {"scale": {"fill": "independent", "color": "independent"}},
"vconcat": [
{
"spacing": 0, "bounds": "flush",
"hconcat": [
{"width": 91, "height": 150, "view": {"stroke": "#000"}, "data": {"values": [{"t": "Depth"}]},
 "mark": {"type": "text", "angle": 90, "fontSize": 17, "color": "#111", "align": "center", "baseline": "middle"},
 "encoding": {"text": {"field": "t"}}},
{"width": 76, "height": 150, "view": {"stroke": "#000"}, "data": {"values": [{"t": "Dok Lithology"}]},
 "mark": {"type": "text", "angle": 90, "fontSize": 17, "color": "#111", "align": "center", "baseline": "middle"},
 "encoding": {"text": {"field": "t"}}},
{"width": 153, "height": 150, "view": {"stroke": "#000"}, "data": {"values": [{"t": "Cu (ppm)"}]},
 "layer": [
  {"mark": {"type": "text", "angle": 90, "fontSize": 17, "color": "#111", "align": "center", "baseline": "middle"}, "encoding": {"text": {"field": "t"}}},
  {"mark": {"type": "text", "fontSize": 12, "color": "#111", "align": "right", "baseline": "middle", "dx": 20, "dy": 57}, "encoding": {"text": {"field": "t"}}},
  {"mark": {"type": "text", "text": "▬", "font": "DejaVu Sans", "fontSize": 30, "color": "#000", "align": "center", "baseline": "middle", "dx": 35, "dy": 57}}
 ]},
{"width": 154, "height": 150, "view": {"stroke": "#000"}, "data": {"values": [{"t": "Au (ppm)"}]},
 "layer": [
  {"mark": {"type": "text", "angle": 90, "fontSize": 17, "color": "#111", "align": "center", "baseline": "middle"}, "encoding": {"text": {"field": "t"}}},
  {"mark": {"type": "text", "fontSize": 12, "color": "#111", "align": "right", "baseline": "middle", "dx": 20, "dy": 57}, "encoding": {"text": {"field": "t"}}},
  {"mark": {"type": "text", "text": "▬", "font": "DejaVu Sans", "fontSize": 30, "color": "#000", "align": "center", "baseline": "middle", "dx": 35, "dy": 57}}
 ]},
{"width": 153, "height": 150, "view": {"stroke": "#000"}, "data": {"values": [{"t": "Ag (ppm)"}]},
 "layer": [
  {"mark": {"type": "text", "angle": 90, "fontSize": 17, "color": "#111", "align": "center", "baseline": "middle"}, "encoding": {"text": {"field": "t"}}},
  {"mark": {"type": "text", "fontSize": 12, "color": "#111", "align": "right", "baseline": "middle", "dx": 20, "dy": 57}, "encoding": {"text": {"field": "t"}}},
  {"mark": {"type": "text", "text": "▬", "font": "DejaVu Sans", "fontSize": 30, "color": "#000", "align": "center", "baseline": "middle", "dx": 35, "dy": 57}}
 ]},
{"width": 152, "height": 150, "view": {"stroke": "#000"}, "data": {"values": [{"t": "Mo (ppm)"}]},
 "layer": [
  {"mark": {"type": "text", "angle": 90, "fontSize": 17, "color": "#111", "align": "center", "baseline": "middle"}, "encoding": {"text": {"field": "t"}}},
  {"mark": {"type": "text", "fontSize": 12, "color": "#111", "align": "right", "baseline": "middle", "dx": 20, "dy": 57}, "encoding": {"text": {"field": "t"}}},
  {"mark": {"type": "text", "text": "▬", "font": "DejaVu Sans", "fontSize": 30, "color": "#000", "align": "center", "baseline": "middle", "dx": 35, "dy": 57}}
 ]},
{"width": 177, "height": 150, "view": {"stroke": "#000"},
 "data": {"values": [{"m": "K-spar"}, {"m": "Silica"}, {"m": "Sericite"}, {"m": "Albite"}, {"m": "Epidote"}, {"m": "Chlorite"}, {"m": "Carb"}]},
 "mark": {"type": "text", "angle": 90, "fontSize": 16, "color": "#111", "align": "center", "baseline": "middle"},
 "encoding": {
  "x": {"field": "m", "type": "nominal", "sort": null, "scale": {"paddingInner": 0, "paddingOuter": 0},
        "axis": {"orient": "bottom", "labels": false, "ticks": false, "domain": false, "title": null, "grid": true, "gridColor": "#000", "gridWidth": 1, "gridOpacity": 1, "bandPosition": 0}},
  "text": {"field": "m"}
 }}
]
},
{
"spacing": 0, "bounds": "flush",
"resolve": {"scale": {"fill": "independent", "color": "independent"}},
"hconcat": [
{"width": 45, "height": 1055, "view": {"stroke": null},
 "data": {"name": "lith"},
 "mark": {"type": "rule", "opacity": 0},
 "encoding": {"y": {"field": "from", "type": "quantitative", "scale": {"domain": [0, 572], "reverse": true, "nice": false, "zero": false},
   "axis": {"orient": "right", "offset": -30, "title": null, "labels": false, "domain": false, "grid": false, "tickColor": "#222", "tickWidth": 1,
     "values": [0,10,20,30,40,50,60,70,80,90,100,110,120,130,140,150,160,170,180,190,200,210,220,230,240,250,260,270,280,290,300,310,320,330,340,350,360,370,380,390,400,410,420,430,440,450,460,470,480,490,500,510,520,530,540,550,560,570,572],
     "tickSize": {"condition": {"test": "datum.value % 50 === 0 || datum.value === 572", "value": 22}, "value": 7}}}}},
{"width": 46, "height": 1055, "view": {"stroke": null},
 "data": {"name": "lith"},
 "mark": {"type": "rule", "opacity": 0},
 "encoding": {"y": {"field": "from", "type": "quantitative", "scale": {"domain": [0, 572], "reverse": true, "nice": false, "zero": false},
   "axis": {"orient": "right", "offset": -8, "title": null, "labels": false, "domain": false, "grid": false, "tickColor": "#222", "tickWidth": 1, "tickSize": 8,
     "values": [0,10,20,30,40,50,60,70,80,90,100,110,120,130,140,150,160,170,180,190,200,210,220,230,240,250,260,270,280,290,300,310,320,330,340,350,360,370,380,390,400,410,420,430,440,450,460,470,480,490,500,510,520,530,540,550,560,570,572]}}}},
{"width": 76, "height": 1055,
 "data": {"name": "lith"},
 "layer": [
  {"mark": {"type": "rect", "stroke": "#222", "strokeWidth": 0.6},
   "encoding": {
    "y": {"field": "from", "type": "quantitative", "scale": {"domain": [0, 572], "reverse": true, "nice": false, "zero": false},
      "axis": {"orient": "left", "title": null, "domain": false, "grid": false, "tickColor": "#222", "tickWidth": 1, "tickSize": 24,
        "values": [0,50,100,150,200,250,300,350,400,450,500,550,572],
        "labelFontSize": 24, "labelColor": "#111", "labelAlign": "center", "labelPadding": 15, "labelFlush": true, "labelOverlap": false, "labelBound": false}},
    "y2": {"field": "to"},
    "fill": {"field": "lith", "type": "nominal", "legend": null,
      "scale": {"domain": ["Mcnz","VStu","VSed","WhRkTf","GrdrPo","FxPhAnd","Trach","FxMgPo","Slst","Flt","Dyk"],
                "range": ["#ff1414","#0c7a12","#22c3a3","#ffff99","#ffad0a","#3cf03c","#63b81c","#cc14cc","#7fb6f0","#0a0a0a","#7a1010"]}}
   }},
  {"transform": [{"filter": "datum.label != ''"}, {"fold": ["from", "to"], "as": ["k", "d"]}],
   "mark": {"type": "text", "baseline": "middle", "align": "center"},
   "encoding": {
    "y": {"field": "d", "aggregate": "mean", "type": "quantitative"},
    "detail": [{"field": "from", "type": "quantitative"}, {"field": "to", "type": "quantitative"}],
    "text": {"field": "label"},
    "color": {"field": "lith", "type": "nominal", "legend": null,
      "scale": {"domain": ["Mcnz","VStu","VSed","WhRkTf","GrdrPo","FxPhAnd","Trach","FxMgPo","Slst","Flt","Dyk"],
                "range": ["#8a0000","#0a3d0a","#0e4d40","#262600","#4a2c00","#0d560d","#1d3d00","#5e005e","#14306a","#888888","#e0a0a0"]}},
    "size": {"condition": [{"test": "datum.to - datum.from < 5", "value": 5}, {"test": "datum.to - datum.from < 7.2", "value": 8}, {"test": "datum.to - datum.from < 9", "value": 11}, {"test": "datum.to - datum.from < 10.5", "value": 14}], "value": 17}
   }}
 ]},
{"width": 153, "height": 1055,
 "data": {"name": "cu"},
 "mark": {"type": "rect", "color": "#ff4a0a", "clip": true},
 "encoding": {
  "y": {"field": "from", "type": "quantitative", "scale": {"domain": [0, 572], "reverse": true, "nice": false, "zero": false}, "axis": null},
  "y2": {"field": "to"},
  "x": {"field": "Cu", "type": "quantitative", "scale": {"domain": [0, 1000], "nice": false},
    "axis": {"orient": "top", "values": [0, 1000], "format": "d", "title": null, "labelFontSize": 9, "labelFlush": true, "labelPadding": 1, "tickSize": 3, "domainColor": "#bbbbbb", "tickColor": "#999999", "labelColor": "#222", "grid": false, "labelOverlap": false}},
  "x2": {"datum": 0}
 }},
{"width": 154, "height": 1055,
 "data": {"name": "au"},
 "mark": {"type": "rect", "color": "#000000", "clip": true},
 "encoding": {
  "y": {"field": "from", "type": "quantitative", "scale": {"domain": [0, 572], "reverse": true, "nice": false, "zero": false}, "axis": null},
  "y2": {"field": "to"},
  "x": {"field": "Au", "type": "quantitative", "scale": {"domain": [0, 1], "nice": false},
    "axis": {"orient": "top", "values": [0, 0.5, 1], "format": "~g", "title": null, "labelFontSize": 9, "labelFlush": true, "labelPadding": 1, "tickSize": 3, "domainColor": "#bbbbbb", "tickColor": "#999999", "labelColor": "#222", "grid": false, "labelOverlap": false}},
  "x2": {"datum": 0}
 }},
{"width": 153, "height": 1055,
 "data": {"name": "ag"},
 "mark": {"type": "rect", "clip": true},
 "encoding": {
  "y": {"field": "from", "type": "quantitative", "scale": {"domain": [0, 572], "reverse": true, "nice": false, "zero": false}, "axis": null},
  "y2": {"field": "to"},
  "x": {"field": "Ag", "type": "quantitative", "scale": {"domain": [0, 10], "nice": false},
    "axis": {"orient": "top", "values": [0, 5, 10], "title": null, "labelFontSize": 9, "labelFlush": true, "labelPadding": 1, "tickSize": 3, "domainColor": "#bbbbbb", "tickColor": "#999999", "labelColor": "#222", "grid": false, "labelOverlap": false}},
  "x2": {"datum": 0},
  "fill": {"condition": {"test": "datum.Ag >= 1", "value": "#8a8a8a"}, "value": "#000000"}
 }},
{"width": 152, "height": 1055,
 "data": {"name": "mo"},
 "mark": {"type": "rect", "color": "#1a86f0", "clip": true},
 "encoding": {
  "y": {"field": "from", "type": "quantitative", "scale": {"domain": [0, 572], "reverse": true, "nice": false, "zero": false}, "axis": null},
  "y2": {"field": "to"},
  "x": {"field": "Mo", "type": "quantitative", "scale": {"domain": [0, 100], "nice": false},
    "axis": {"orient": "top", "values": [0, 50, 100], "title": null, "labelFontSize": 9, "labelFlush": true, "labelPadding": 1, "tickSize": 3, "domainColor": "#bbbbbb", "tickColor": "#999999", "labelColor": "#222", "grid": false, "labelOverlap": false}},
  "x2": {"datum": 0}
 }},
{"width": 177, "height": 1055,
 "view": {"fill": "#000000", "stroke": "#000000"},
 "data": {"name": "alt"},
 "layer": [
  {"mark": {"type": "rect", "stroke": "#000000", "strokeWidth": 1},
   "encoding": {
    "x": {"field": "mineral", "type": "nominal", "axis": null, "scale": {"domain": ["K-spar","Silica","Sericite","Albite","Epidote","Chlorite","Carb"], "paddingInner": 0, "paddingOuter": 0}},
    "y": {"field": "from", "type": "quantitative", "scale": {"domain": [0, 572], "reverse": true, "nice": false, "zero": false}, "axis": null},
    "y2": {"field": "to"},
    "fill": {"field": "intensity", "type": "nominal", "legend": null, "scale": {"domain": ["weak","mod","strong","nil"], "range": ["#8fd3f5","#36e84a","#ffb319","#ffffff"]}}
   }},
  {"transform": [{"filter": "datum.intensity != 'nil'"}, {"fold": ["from", "to"], "as": ["k", "d"]}],
   "mark": {"type": "text", "baseline": "middle", "align": "center"},
   "encoding": {
    "x": {"field": "mineral", "type": "nominal"},
    "y": {"field": "d", "aggregate": "mean", "type": "quantitative"},
    "detail": [{"field": "from", "type": "quantitative"}, {"field": "to", "type": "quantitative"}],
    "text": {"field": "intensity"},
    "color": {"field": "intensity", "type": "nominal", "legend": null, "scale": {"domain": ["weak","mod","strong"], "range": ["#1b3f75","#0d5c16","#6e3b00"]}},
    "size": {"condition": [{"test": "datum.to - datum.from < 3.5", "value": 5}, {"test": "datum.to - datum.from < 6", "value": 8}], "value": 10}
   }}
 ]}
]
}
]
}
]
}
